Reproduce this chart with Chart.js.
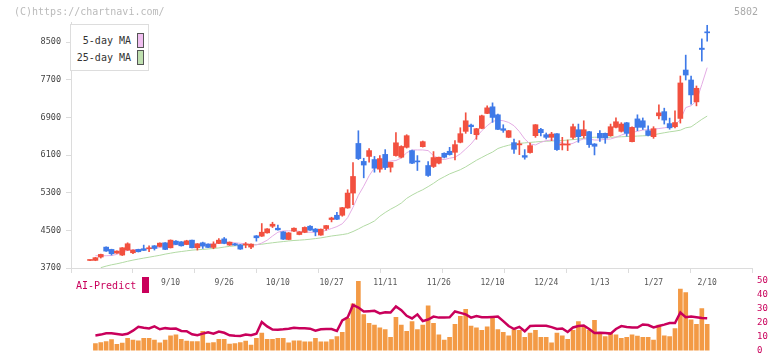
<!DOCTYPE html>
<html>
<head>
<meta charset="utf-8">
<script src="https://cdn.jsdelivr.net/npm/chart.js@4.4.1/dist/chart.umd.min.js"></script>
<style>
  html, body { margin: 0; padding: 0; background: #fff; }
  #wrap { position: relative; width: 772px; height: 361px; overflow: hidden; font-family: "DejaVu Sans Mono", monospace; }
  canvas { position: absolute; left: 0; }
  #priceChart { top: 0; z-index: 2; }
  #aiChart { top: 270px; z-index: 1; }
  .txt { position: absolute; white-space: pre; z-index: 3; font-size: 10px; line-height: 12px; }
  #copy { left: 14px; top: 6px; color: #bbb; }
  #code { left: 734px; top: 6px; color: #aaa; }
  #legend { position: absolute; left: 70px; top: 24px; width: 77px; height: 45px; border: 1px solid #ddd; background: #fff; z-index: 3; }
  .row { position: absolute; right: 4px; font-size: 10px; color: #333; line-height: 14px; }
  .row span { display: inline-block; width: 5px; height: 13px; border: 1px solid #555; vertical-align: middle; margin-left: 6px; }
  #aiLabel { left: 76px; top: 280px; color: #c9005b; }
  #aiBox { position: absolute; left: 142px; top: 277px; width: 7px; height: 16px; background: #c9005b; z-index: 3; }
</style>
</head>
<body>
<div id="wrap">
  <canvas id="priceChart" width="772" height="300"></canvas>
  <canvas id="aiChart" width="772" height="91"></canvas>
  <div class="txt" id="copy">(C)https://chartnavi.com/</div>
  <div class="txt" id="code">5802</div>
  <div id="legend">
    <div class="row" style="top:8px">5-day MA<span style="background:#f0bff0"></span></div>
    <div class="row" style="top:25px">25-day MA<span style="background:#bfe0b0"></span></div>
  </div>
  <div class="txt" id="aiLabel">AI-Predict</div>
  <div id="aiBox"></div>
</div>
<script>
// price candles, index 0 = first day on the chart
const opens = [
  3860,3862,3933,4144,4095,4017,3975,4081,4024,4095,
  4109,4110,4172,4158,4236,4130,4271,4257,4201,4292,
  4130,4236,4208,4137,4222,4320,4187,4215,4194,4190,
  4144,4384,4377,4447,4588,4546,4468,4306,4483,4412,
  4458,4588,4528,4400,4539,4730,4821,4821,4976,5293,
  6348,5966,6072,6006,5801,6115,5843,6090,6055,6266,
  6196,5960,6280,5879,5858,5928,6139,6182,6160,6372,
  6605,6739,6534,6668,6986,7127,6957,6661,6478,6365,
  6318,6090,6154,6513,6647,6534,6478,6555,6315,6315,
  6478,6640,6513,6598,6337,6563,6563,6513,6690,6605,
  6788,6386,6870,6830,6619,6492,6936,7024,6770,6703,
  6880,7909,7697,7232,8374,8720];
const highs = [
  3866,3925,3995,4150,4100,4065,4135,4236,4085,4100,
  4187,4172,4178,4235,4240,4298,4285,4262,4290,4296,
  4220,4250,4215,4257,4327,4349,4255,4225,4200,4243,
  4212,4390,4645,4540,4673,4610,4475,4455,4555,4475,
  4575,4600,4540,4530,4605,4780,4884,4990,5364,5942,
  6618,6033,6240,6072,6090,6217,5950,6577,6300,6534,
  6205,6090,6400,5963,6175,6060,6150,6266,6407,6682,
  7000,6760,6670,6950,7148,7211,6970,6746,6625,6443,
  6407,6217,6358,6750,6668,6570,6584,6560,6478,6422,
  6760,6760,6830,6605,6345,6619,6570,6760,6890,6790,
  6795,6700,6957,6890,6725,6704,7168,7098,6887,7042,
  7782,8226,7782,7570,8571,8860];
const lows = [
  3855,3855,3911,4055,3975,4010,3965,4075,4003,4040,
  4070,4046,4081,4150,4090,4125,4195,4165,4195,4125,
  4081,4116,4130,4109,4215,4215,4180,4180,4095,4130,
  4109,4271,4370,4440,4560,4505,4305,4300,4475,4405,
  4450,4500,4384,4395,4504,4680,4730,4800,4970,5046,
  6005,5617,5949,5737,5740,5794,5740,6080,6040,6250,
  5920,5773,6270,5646,5836,5915,6040,6100,5998,6360,
  6563,6556,6436,6660,6980,6795,6640,6584,6470,6135,
  6111,6013,6140,6478,6506,6443,6407,6200,6210,6196,
  6443,6372,6464,6266,6104,6393,6351,6500,6680,6590,
  6500,6380,6619,6645,6510,6457,6870,6760,6650,6680,
  6781,7697,7183,7147,8099,8522];
const closes = [
  3864,3919,3989,4060,4003,4060,4130,4215,4081,4046,
  4074,4116,4116,4229,4095,4292,4201,4172,4278,4130,
  4215,4165,4137,4208,4292,4222,4250,4187,4102,4194,
  4208,4342,4461,4532,4631,4511,4313,4447,4546,4468,
  4563,4504,4470,4525,4602,4764,4736,4983,5293,5646,
  6026,5889,6196,5822,6026,5836,5945,6362,6284,6513,
  5928,5956,6386,5667,6048,6055,6055,6111,6323,6556,
  6830,6704,6661,6936,7105,6901,6647,6626,6619,6224,
  6323,6055,6302,6746,6577,6478,6548,6217,6323,6323,
  6704,6492,6640,6323,6288,6464,6464,6704,6809,6760,
  6563,6690,6690,6690,6520,6661,6999,6845,6680,6792,
  7634,7803,7380,7521,8346,8700];
const ma5 = [
  null,3961,3961,3961,3965,3990,4040,4075,4085,4095,
  4100,4110,4120,4135,4150,4180,4195,4200,4200,4205,
  4200,4195,4205,4215,4235,4250,4245,4236,4225,4215,
  4190,4190,4230,4290,4380,4460,4490,4490,4495,4480,
  4465,4460,4460,4470,4500,4540,4580,4640,4770,4990,
  5244,5440,5660,5830,5925,5956,5972,5985,6040,6150,
  6210,6210,6210,6196,6090,6020,6006,6034,6055,6126,
  6230,6337,6478,6619,6725,6816,6845,6830,6795,6725,
  6600,6443,6337,6316,6372,6407,6422,6407,6351,6323,
  6351,6407,6443,6443,6420,6420,6436,6443,6478,6527,
  6563,6584,6605,6633,6640,6650,6665,6680,6700,6750,
  6850,7110,7150,7250,7600,7960];
const ma25 = [
  null,null,3707,3740,3768,3790,3815,3843,3868,3890,
  3910,3930,3950,3970,3995,4015,4035,4050,4065,4080,
  4088,4095,4105,4115,4127,4145,4160,4170,4178,4187,
  4192,4198,4205,4222,4236,4250,4262,4275,4285,4292,
  4300,4312,4325,4340,4360,4380,4395,4410,4430,4475,
  4530,4590,4640,4700,4800,4880,4950,5010,5080,5180,
  5250,5310,5364,5430,5500,5580,5640,5700,5745,5790,
  5850,5920,5990,6050,6110,6165,6240,6280,6310,6335,
  6350,6360,6370,6380,6390,6395,6400,6405,6410,6420,
  6430,6440,6455,6475,6480,6480,6480,6480,6485,6490,
  6495,6500,6505,6510,6515,6530,6555,6575,6595,6610,
  6630,6680,6700,6780,6860,6930];

// lower panel
const volumes = [
  null,5.0,5.8,6.5,7.9,4.4,5.4,8.75,7.5,6.9,
  8.75,8.75,7.5,5.6,7.5,10.6,11.25,8.1,6.7,6.5,
  6.5,13.75,5.4,5.8,8.1,8.1,4.6,5.0,5.8,6.7,
  4.0,8.75,12.5,8.1,8.1,8.75,8.75,5.6,6.9,6.9,
  6.25,6.25,8.75,6.25,6.25,7.9,10.0,13.1,22.9,33.3,
  49.4,25.6,19.4,18.1,16.25,15.0,9.4,23.75,18.1,13.75,
  20.6,15.0,18.1,31.9,19.4,11.25,7.5,9.4,18.75,24.4,
  29.4,17.5,16.25,14.4,16.9,23.1,15.0,13.1,10.6,15.0,
  14.4,9.4,12.5,14.4,9.4,9.4,5.6,12.5,10.6,8.1,
  14.4,20.6,16.9,14.4,21.5,13.1,10.0,13.1,11.25,8.75,
  9.4,11.25,10.3,9.4,9.4,7.5,18.1,10.6,10.0,15.6,
  43.75,41.25,21.9,18.75,30.0,18.75];
const aiPredict = [
  null,10.8,11.4,12.3,12.3,11.9,11.3,12.0,14.2,17.0,
  16.3,15.8,17.2,15.2,16.0,15.5,15.7,14.0,13.8,11.6,
  11.0,12.1,13.1,12.1,13.6,12.7,10.9,10.6,10.4,11.5,
  10.9,12.0,20.4,17.2,15.0,14.9,15.2,15.6,16.2,16.0,
  15.9,15.6,14.2,15.2,15.4,15.3,14.0,21.5,23.6,32.5,
  30.7,27.9,28.1,28.3,26.5,27.3,27.1,31.5,28.75,24.8,
  22.9,25.8,21.0,22.1,24.2,23.5,23.5,23.75,27.9,26.9,
  25.8,23.5,24.6,23.75,23.75,24.0,24.2,21.0,17.5,15.4,
  16.9,13.75,17.5,17.7,17.7,17.7,16.7,15.4,15.8,13.3,
  16.5,17.5,17.9,15.4,12.5,12.7,12.5,12.1,15.4,17.5,
  16.8,16.4,16.4,18.6,18.2,16.5,17.5,18.5,19.6,19.6,
  27.1,23.75,24.2,23.75,23.3,23.1];

// axis labels
const dateTicks = ['9/10','9/26','10/10','10/27','11/11','11/26','12/10','12/24','1/13','1/27','2/10'];
const dateTickStart = 15, dateTickStep = 10;
const priceTicks = [3700,4500,5300,6100,6900,7700,8500];
const aiTicks = [0,10,20,30,40,50];

// layout / style
const UP = '#f2503f', DOWN = '#3f7ae8', AI = '#c9005b';
const X_MIN = -3.55, X_MAX = 123.35;
const FONT = 'DejaVu Sans Mono';

function points(arr){
  return arr.map((v,i) => ({x: i, y: v})).filter(p => p.y !== null);
}
const candleColors = closes.map((c,i) => c >= opens[i] ? UP : DOWN);

new Chart(document.getElementById('priceChart'), {
  type: 'bar',
  data: {
    datasets: [
      { label: 'body', data: opens.map((o,i) => ({x: i, y: [o, closes[i]]})),
        backgroundColor: candleColors, barThickness: 5, minBarLength: 1, grouped: false, order: 0 },
      { label: 'wick', data: lows.map((l,i) => ({x: i, y: [l, highs[i]]})),
        backgroundColor: candleColors, barThickness: 1, grouped: false, order: 1 },
      { type: 'line', label: '5-day MA', data: points(ma5), borderColor: '#e4ace4',
        borderWidth: 1, pointRadius: 0, order: 2 },
      { type: 'line', label: '25-day MA', data: points(ma25), borderColor: '#b2daa4',
        borderWidth: 1, pointRadius: 0, order: 3 }
    ]
  },
  options: {
    responsive: false, animation: false, devicePixelRatio: 1,
    layout: { padding: { top: 22, right: 20, left: 0, bottom: 0 } },
    plugins: { legend: { display: false }, tooltip: { enabled: false } },
    scales: {
      x: {
        type: 'linear', min: X_MIN, max: X_MAX, bounds: 'data', offset: false, position: 'bottom', weight: 0,
        grid: { drawOnChartArea: false, offset: false, tickLength: 5, color: '#dcdcdc' },
        border: { color: '#dcdcdc' },
        ticks: { display: false },
        afterBuildTicks: ax => { ax.ticks = Array.from({length: 12}, (_, k) => ({value: ax.min + k * (ax.max - ax.min) / 11})); },
        afterFit: ax => { ax.height = 4; }
      },
      x2: {
        type: 'linear', min: X_MIN, max: X_MAX, bounds: 'data', offset: false, position: 'bottom', weight: 1,
        grid: { display: false, drawTicks: false }, border: { display: false },
        ticks: { autoSkip: false, maxRotation: 0, minRotation: 0, padding: 6, color: '#555',
                 font: { family: FONT, size: 8 },
                 callback: v => dateTicks[Math.round((v - dateTickStart) / dateTickStep)] },
        afterBuildTicks: ax => { ax.ticks = dateTicks.map((_, k) => ({value: dateTickStart + k * dateTickStep})); },
        afterFit: ax => { ax.height = 28; }
      },
      y: {
        type: 'linear', min: 3700, max: 8930, bounds: 'data', position: 'left',
        grid: { drawOnChartArea: false, tickLength: 5, color: '#dcdcdc' },
        border: { color: '#dcdcdc' },
        ticks: { padding: 5, color: '#444', font: { family: FONT, size: 8.5 }, callback: v => String(v) },
        afterBuildTicks: ax => { ax.ticks = priceTicks.map(v => ({value: v})); },
        afterFit: ax => { ax.width = 71; }
      }
    }
  }
});

new Chart(document.getElementById('aiChart'), {
  type: 'bar',
  data: {
    datasets: [
      { type: 'line', label: 'AI-Predict', data: points(aiPredict), borderColor: AI,
        borderWidth: 2.5, pointRadius: 0, order: 0 },
      { label: 'volume', data: points(volumes), backgroundColor: '#f39a45', barThickness: 4, order: 1 }
    ]
  },
  options: {
    responsive: false, animation: false, devicePixelRatio: 1,
    layout: { padding: { top: 8, bottom: 3, left: 71, right: 0 } },
    plugins: { legend: { display: false }, tooltip: { enabled: false } },
    scales: {
      x: { type: 'linear', min: X_MIN, max: X_MAX, bounds: 'data', offset: false, display: false },
      y: {
        type: 'linear', position: 'right', min: 0, max: 50, bounds: 'data',
        grid: { display: false, drawTicks: false }, border: { display: false },
        ticks: { padding: 5, color: AI, font: { family: FONT, size: 9 }, callback: v => String(v) },
        afterBuildTicks: ax => { ax.ticks = aiTicks.map(v => ({value: v})); },
        afterFit: ax => { ax.width = 20; }
      }
    }
  }
});
</script>
</body>
</html>
